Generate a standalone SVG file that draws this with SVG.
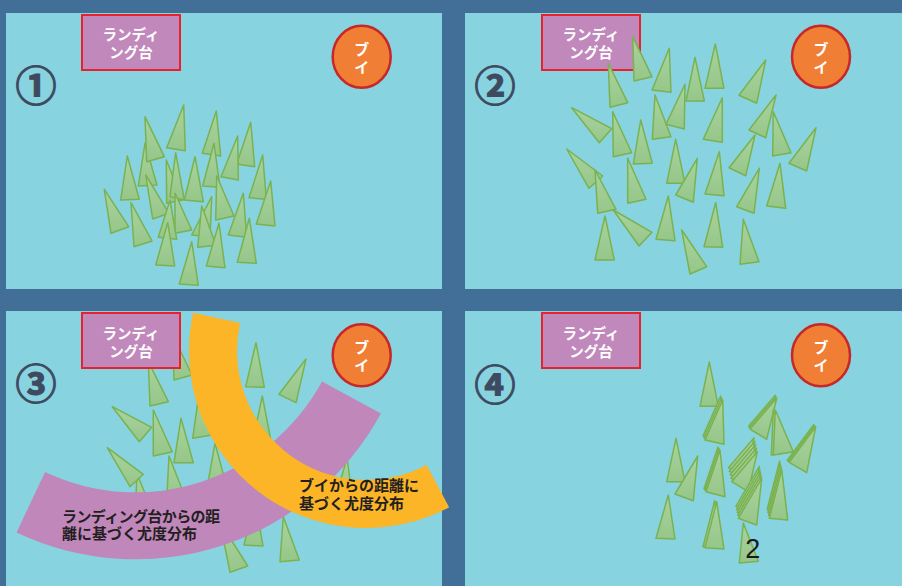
<svg xmlns="http://www.w3.org/2000/svg" width="902" height="586" viewBox="0 0 902 586">
  <defs>
    <linearGradient id="tg" x1="0" y1="0" x2="0" y2="1">
      <stop offset="0" stop-color="#a9d49e"/>
      <stop offset="1" stop-color="#96c68a"/>
    </linearGradient>
  </defs>
  <style>
    .panel { fill: #87d3df; }
    .t { fill: url(#tg); stroke: #7ab250; stroke-width: 1.5; stroke-linejoin: round; }
    .lbox rect { fill: #c088bb; stroke: #e8212b; stroke-width: 2; }
    .lbox text { fill: #ffffff; font-family: "Noto Sans CJK JP", sans-serif; font-weight: bold; font-size: 14.5px; text-anchor: middle; }
    .buoy ellipse { fill: #f07e34; stroke: #c6282a; stroke-width: 2.5; }
    .buoy text { fill: #ffffff; font-family: "Noto Sans CJK JP", sans-serif; font-weight: bold; font-size: 15px; text-anchor: middle; }
    .num { fill: #3e4a5f; stroke: #3e4a5f; stroke-width: 1.1; font-family: "Noto Sans CJK JP", sans-serif; font-weight: bold; font-size: 41px; text-anchor: middle; dominant-baseline: central; }
    .band-text { fill: #231f20; font-family: "Noto Sans CJK JP", sans-serif; font-weight: bold; font-size: 15px; }
  </style>

  <!-- frame -->
  <rect x="0" y="0" width="902" height="586" fill="#416f98"/>

  <!-- ===== panel 1 ===== -->
  <g id="panel1">
    <rect class="panel" x="6" y="13" width="436" height="276"/>
    <g id="swarm1">
      <polygon class="t" points="183.7,105 166.7,147.7 185.3,150.7"/>
      <polygon class="t" points="216.3,111 202.3,153.3 220.7,156"/>
      <polygon class="t" points="250.7,122.3 236.7,164 254.7,166.7"/>
      <polygon class="t" points="127.3,156 120.7,200 139.3,199.3"/>
      <polygon class="t" points="145,143.3 138.3,186 157,185"/>
      <polygon class="t" points="145,116.7 146.7,161.7 164.3,156.7"/>
      <polygon class="t" points="237.7,136 221,176.7 238.3,180"/>
      <polygon class="t" points="262.7,155 249,197.7 266.3,199.3"/>
      <polygon class="t" points="166.3,160 166.7,203.3 182.3,200"/>
      <polygon class="t" points="195,156.7 184.3,200 203.3,201.7"/>
      <polygon class="t" points="214,143.3 202.7,186 220,187.3"/>
      <polygon class="t" points="175.7,152.7 170,196.7 184.3,200"/>
      <polygon class="t" points="145.7,175 152.7,219 169,213.3"/>
      <polygon class="t" points="270.7,181 256.3,224 275,226"/>
      <polygon class="t" points="104.3,189.3 111,233.3 128.7,226.7"/>
      <polygon class="t" points="131,202.7 134,246.7 152,241"/>
      <polygon class="t" points="175,193.3 175,233.3 191.7,230"/>
      <polygon class="t" points="211.7,196.7 191.7,235 210,236.7"/>
      <polygon class="t" points="170,200 158.3,237.3 176.7,239.3"/>
      <polygon class="t" points="216.7,176 215.7,220 234,216"/>
      <polygon class="t" points="243.3,193.3 228.3,235 246.7,237.3"/>
      <polygon class="t" points="201.7,206 197.7,247.3 216,245.3"/>
      <polygon class="t" points="167.7,222.7 155.7,265 174.7,266"/>
      <polygon class="t" points="219,223.3 206.3,266 225,267.7"/>
      <polygon class="t" points="249.3,218.3 237.3,262.3 256.3,263.3"/>
      <polygon class="t" points="191.7,241.7 179.3,284 198.3,285.3"/>
    </g>
    <g id="landing1" class="lbox">
      <rect x="82" y="15" width="98" height="55"/>
      <text x="131" y="40">ランディ</text>
      <text x="131" y="58">ング台</text>
    </g>
    <g id="buoy1" class="buoy">
      <ellipse cx="361.7" cy="56.7" rx="29" ry="31"/>
      <text x="361.7" y="54.5">ブ</text>
      <text x="361.7" y="72.5">イ</text>
    </g>
    <text class="num" x="36" y="83">①</text>
  </g>

  <!-- ===== panel 2 ===== -->
  <g id="panel2">
    <rect class="panel" x="465" y="13" width="437" height="276"/>
    <g id="landing2" class="lbox">
      <rect x="542" y="15" width="98" height="55"/>
      <text x="591" y="40">ランディ</text>
      <text x="591" y="58">ング台</text>
    </g>
    <g id="swarm2">
      <polygon class="t" points="632.7,36.7 634,81 652,76.7"/>
      <polygon class="t" points="669.3,48.3 652,90 671,92.3"/>
      <polygon class="t" points="695,57.3 686,101 704.3,101"/>
      <polygon class="t" points="715.3,44 705,88.3 724,88.3"/>
      <polygon class="t" points="765.7,60 739,95.3 756.7,103.3"/>
      <polygon class="t" points="608.3,63.3 610,107.3 627.7,102.7"/>
      <polygon class="t" points="571.7,107.7 599.3,142.7 611.7,128.7"/>
      <polygon class="t" points="612.7,111.7 613.3,156.7 631.7,152.7"/>
      <polygon class="t" points="655,95 652.3,139.3 671,136.7"/>
      <polygon class="t" points="685,84.3 666,124.3 684.3,129"/>
      <polygon class="t" points="722.3,97.7 703.3,139.3 722.3,142.3"/>
      <polygon class="t" points="776,95 749,130 765.7,137.7"/>
      <polygon class="t" points="773.3,111.7 772.7,156 791,152.7"/>
      <polygon class="t" points="816,127.7 789,163.3 806.7,171"/>
      <polygon class="t" points="640.7,120 633.3,164 652.3,163.3"/>
      <polygon class="t" points="755,135 729,167.7 745.7,175.7"/>
      <polygon class="t" points="566.7,149 589,188.3 602.7,176"/>
      <polygon class="t" points="627.7,158.3 627.7,203.3 646,199.3"/>
      <polygon class="t" points="675.7,139.3 666.7,183.3 685,183.3"/>
      <polygon class="t" points="719.3,151.7 705,194 724,195.7"/>
      <polygon class="t" points="697.3,158.3 675.7,195 693.3,202.3"/>
      <polygon class="t" points="759.3,168.3 736.7,206.7 754,213.3"/>
      <polygon class="t" points="780,163.3 766.7,206 785.7,208.3"/>
      <polygon class="t" points="595,170 597.7,213.3 616,209.3"/>
      <polygon class="t" points="613.3,210 639,246 652,232.3"/>
      <polygon class="t" points="605,216 595,260 614.3,260"/>
      <polygon class="t" points="668.3,196 656,239.3 675,240.7"/>
      <polygon class="t" points="715.7,202.7 704,246.7 722.7,247.3"/>
      <polygon class="t" points="681.7,230 690,274 706.7,266.7"/>
      <polygon class="t" points="743.3,219.3 740,264.3 759,261.7"/>
    </g>
    <g id="buoy2" class="buoy">
      <ellipse cx="821" cy="56.7" rx="29" ry="31"/>
      <text x="821" y="54.5">ブ</text>
      <text x="821" y="72.5">イ</text>
    </g>
    <text class="num" x="495" y="83">②</text>
  </g>

  <!-- ===== panel 3 ===== -->
  <g id="panel3">
    <rect class="panel" x="6" y="311" width="436" height="275"/>
    <g id="swarm3">
      <polygon class="t" points="172.7,335 174,380 192,375"/>
      <polygon class="t" points="148.3,361.7 150,406 168.3,401.7"/>
      <polygon class="t" points="256,342.7 245.7,386.7 264.3,387.3"/>
      <polygon class="t" points="306,359 279,394.3 296,402.7"/>
      <polygon class="t" points="200,386.7 192.7,438.3 211.7,435"/>
      <polygon class="t" points="262.3,396 253,440 271,441"/>
      <polygon class="t" points="112.3,406.7 139.3,441.7 151.7,427.3"/>
      <polygon class="t" points="153.3,410 153.3,456 172.3,451.7"/>
      <polygon class="t" points="181,418.3 174,462.7 193.3,462.7"/>
      <polygon class="t" points="137,474 135,518 154,515"/>
      <polygon class="t" points="107.3,447.7 130,486.7 143.3,474.3"/>
      <polygon class="t" points="169,456 166.7,500 185,496.7"/>
      <polygon class="t" points="215,443.3 207.3,486.7 226.7,486.7"/>
      <polygon class="t" points="347,458 335,500 353,502"/>
      <polygon class="t" points="255,500 244,545 263,546"/>
      <polygon class="t" points="220,522 230,572.3 247.7,566"/>
      <polygon class="t" points="283.3,516.7 280,561.7 299.3,560"/>
    </g>
    <g id="landing3" class="lbox">
      <rect x="82" y="313" width="98" height="55"/>
      <text x="131" y="339">ランディ</text>
      <text x="131" y="357">ング台</text>
    </g>
    <g id="buoy3" class="buoy">
      <ellipse cx="361.7" cy="355.3" rx="29" ry="31"/>
      <text x="361.7" y="353">ブ</text>
      <text x="361.7" y="371">イ</text>
    </g>
    <!-- likelihood band around the landing pad -->
    <g id="band-landing">
      <path d="M380.9,413.4 A279,279 0 0 1 16.5,532.5 L45.1,472 A212,212 0 0 0 322,381.5 Z" fill="#c087bb"/>
      <text class="band-text" x="62" y="522" letter-spacing="-0.6">ランディング台からの距</text>
      <text class="band-text" x="62" y="539">離に基づく尤度分布</text>
    </g>
    <!-- likelihood band around the buoy -->
    <g id="band-buoy">
      <path d="M449.1,507.3 A177,177 0 0 1 193.2,312.7 L240.1,323.1 A129,129 0 0 0 426.6,464.9 Z" fill="#fbb527"/>
      <text class="band-text" x="299" y="491">ブイからの距離に</text>
      <text class="band-text" x="299" y="509">基づく尤度分布</text>
    </g>
    <text class="num" x="36" y="381">③</text>
  </g>

  <!-- ===== panel 4 ===== -->
  <g id="panel4">
    <rect class="panel" x="465" y="311" width="437" height="275"/>
    <g id="landing4" class="lbox">
      <rect x="542" y="313" width="98" height="55"/>
      <text x="591" y="339">ランディ</text>
      <text x="591" y="357">ング台</text>
    </g>
    <g id="buoy4" class="buoy">
      <ellipse cx="821" cy="355.3" rx="29" ry="31"/>
      <text x="821" y="353">ブ</text>
      <text x="821" y="371">イ</text>
    </g>
    <g id="swarm4">
      <polygon class="t" points="709.3,362 700,406.3 718.3,406.3"/>
      <!-- stacked particles -->
      <polygon class="t" points="722.7,400 705,440 724,444.3" transform="translate(-2,-4)"/>
      <polygon class="t" points="722.7,400 705,440 724,444.3" transform="translate(-1,-2)"/>
      <polygon class="t" points="722.7,400 705,440 724,444.3"/>
      <polygon class="t" points="776.7,398.3 750,429 766.7,439.3" transform="translate(-1.4,-3)"/>
      <polygon class="t" points="776.7,398.3 750,429 766.7,439.3" transform="translate(-0.7,-1.5)"/>
      <polygon class="t" points="776.7,398.3 750,429 766.7,439.3"/>
      <polygon class="t" points="775.3,410 773.3,455 793.3,451.7" transform="translate(-2,0)"/>
      <polygon class="t" points="775.3,410 773.3,455 793.3,451.7"/>
      <polygon class="t" points="815.7,426.7 789.3,462.3 806.7,472.7" transform="translate(-2,-2)"/>
      <polygon class="t" points="815.7,426.7 789.3,462.3 806.7,472.7" transform="translate(-1,-1)"/>
      <polygon class="t" points="815.7,426.7 789.3,462.3 806.7,472.7"/>
      <polygon class="t" points="676,438.3 666.7,481.7 685,481.7"/>
      <polygon class="t" points="697.7,456 675,494 693.3,500.7"/>
      <polygon class="t" points="720,450 706,491.7 725,496.7" transform="translate(-2,-3)"/>
      <polygon class="t" points="720,450 706,491.7 725,496.7" transform="translate(-1,-1.5)"/>
      <polygon class="t" points="720,450 706,491.7 725,496.7"/>
      <polygon class="t" points="757.3,451.7 731.7,481.7 748.3,491.7" transform="translate(-3.2,-14)"/>
      <polygon class="t" points="757.3,451.7 731.7,481.7 748.3,491.7" transform="translate(-2.4,-10.5)"/>
      <polygon class="t" points="757.3,451.7 731.7,481.7 748.3,491.7" transform="translate(-1.6,-7)"/>
      <polygon class="t" points="757.3,451.7 731.7,481.7 748.3,491.7" transform="translate(-0.8,-3.5)"/>
      <polygon class="t" points="757.3,451.7 731.7,481.7 748.3,491.7"/>
      <polygon class="t" points="781.7,470 769.3,518.3 787.7,520" transform="translate(-2.1,-9)"/>
      <polygon class="t" points="781.7,470 769.3,518.3 787.7,520" transform="translate(-1.4,-6)"/>
      <polygon class="t" points="781.7,470 769.3,518.3 787.7,520" transform="translate(-0.7,-3)"/>
      <polygon class="t" points="781.7,470 769.3,518.3 787.7,520"/>
      <polygon class="t" points="761.7,478.3 738.3,518.3 756.7,525" transform="translate(-2.4,-12)"/>
      <polygon class="t" points="761.7,478.3 738.3,518.3 756.7,525" transform="translate(-1.8,-9)"/>
      <polygon class="t" points="761.7,478.3 738.3,518.3 756.7,525" transform="translate(-1.2,-6)"/>
      <polygon class="t" points="761.7,478.3 738.3,518.3 756.7,525" transform="translate(-0.6,-3)"/>
      <polygon class="t" points="761.7,478.3 738.3,518.3 756.7,525"/>
      <polygon class="t" points="668.3,495 656,538.3 675,539"/>
      <polygon class="t" points="716.7,501.7 705,547.7 724,549" transform="translate(-2,-1)"/>
      <polygon class="t" points="716.7,501.7 705,547.7 724,549"/>
      <polygon class="t" points="743.3,523 739.3,563 758.3,561.3"/>
    </g>
    <text x="752.7" y="558" fill="#1a1a1a" font-family="Liberation Sans, Arial, sans-serif" font-size="27" text-anchor="middle">2</text>
    <text class="num" x="495" y="382">④</text>
  </g>
</svg>
